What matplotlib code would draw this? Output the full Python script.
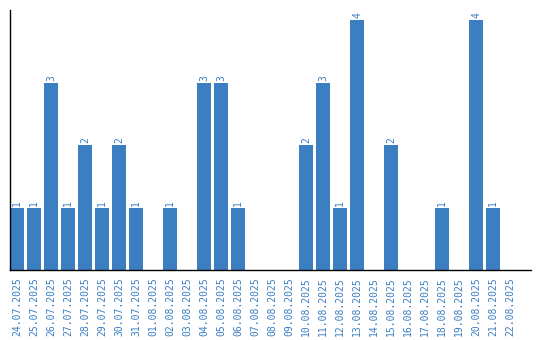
import matplotlib
matplotlib.use("Agg")
import matplotlib.pyplot as plt

dates = ["24.07.2025","25.07.2025","26.07.2025","27.07.2025","28.07.2025","29.07.2025",
         "30.07.2025","31.07.2025","01.08.2025","02.08.2025","03.08.2025","04.08.2025",
         "05.08.2025","06.08.2025","07.08.2025","08.08.2025","09.08.2025","10.08.2025",
         "11.08.2025","12.08.2025","13.08.2025","14.08.2025","15.08.2025","16.08.2025",
         "17.08.2025","18.08.2025","19.08.2025","20.08.2025","21.08.2025","22.08.2025"]
counts = [1,1,3,1,2,1,2,1,0,1,0,3,3,1,0,0,0,2,3,1,4,0,2,0,0,1,0,4,1,0]

color = "#3b7ec2"
fig = plt.figure(figsize=(5.4, 3.4), dpi=100)
ax = fig.add_axes([10/540, 1-270/340, 521/540, 260/340])
x = list(range(len(dates)))
ax.bar(x, counts, width=14/17, color=color)
for xi, v in zip(x, counts):
    if v > 0:
        ax.text(xi, v + 0.03, str(v), rotation=90, ha="center", va="bottom",
                color=color, fontsize=7, family="DejaVu Sans Mono")
ax.set_xlim(-7/17, 514/17)
ax.set_ylim(0, 4.16)
ax.set_xticks(x)
ax.set_xticklabels(dates, rotation=90, color=color, fontsize=7, family="DejaVu Sans Mono")
ax.tick_params(axis="x", length=0, pad=5)
ax.set_yticks([])
ax.spines["top"].set_visible(False)
ax.spines["right"].set_visible(False)
ax.spines["left"].set_linewidth(1.0)
ax.spines["bottom"].set_linewidth(1.0)
fig.savefig("out.png", dpi=100)
